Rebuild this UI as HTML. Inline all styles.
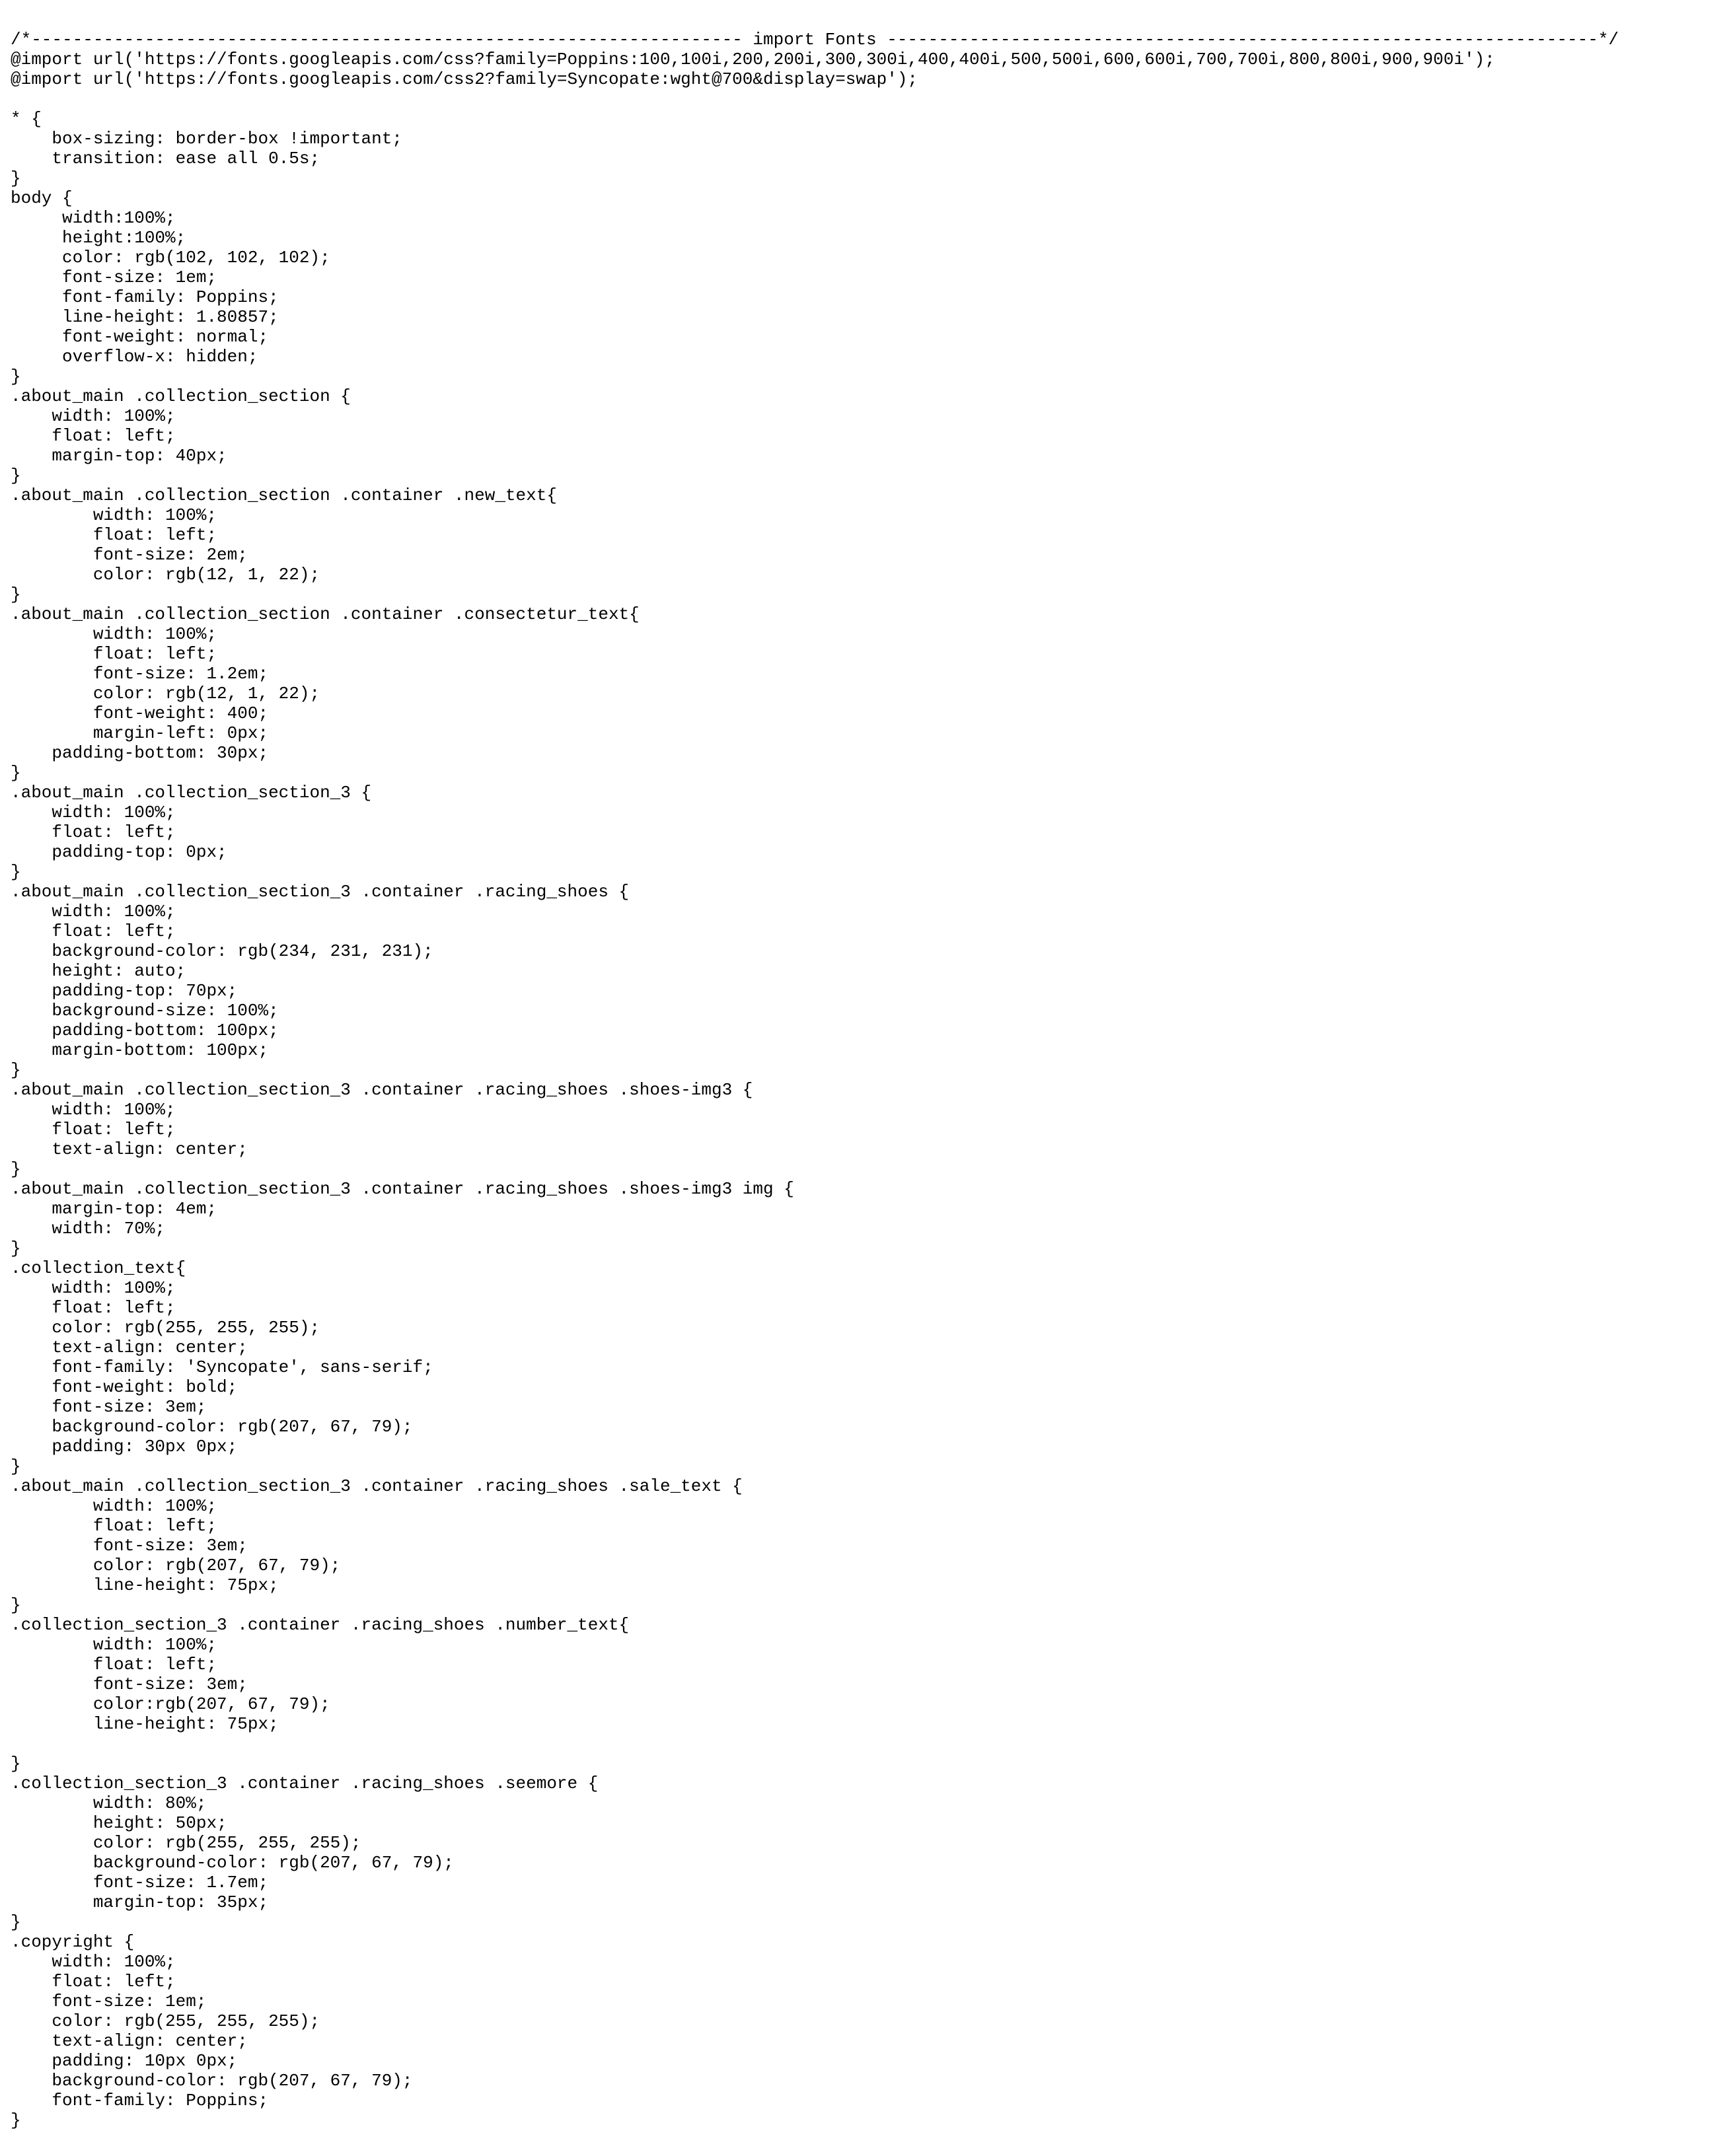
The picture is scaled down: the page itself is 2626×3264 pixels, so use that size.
<!DOCTYPE html>
<html><head><meta charset="utf-8"><style>
html,body{margin:0;padding:0;background:#fff;width:2626px;height:3264px;overflow:hidden}
pre{margin:0;position:absolute;left:16px;top:45px;font-family:"Liberation Mono",monospace;font-size:26px;line-height:30px;color:#000}
</style></head><body><pre>/*--------------------------------------------------------------------- import Fonts ---------------------------------------------------------------------*/
@import url('https://fonts.googleapis.com/css?family=Poppins:100,100i,200,200i,300,300i,400,400i,500,500i,600,600i,700,700i,800,800i,900,900i');
@import url('https://fonts.googleapis.com/css2?family=Syncopate:wght@700&amp;display=swap');

* {
    box-sizing: border-box !important;
    transition: ease all 0.5s;
}
body {
     width:100%;
     height:100%;
     color: rgb(102, 102, 102);
     font-size: 1em;
     font-family: Poppins;
     line-height: 1.80857;
     font-weight: normal;
     overflow-x: hidden;
}
.about_main .collection_section {
    width: 100%;
    float: left;
    margin-top: 40px;
}
.about_main .collection_section .container .new_text{
        width: 100%;
        float: left;
        font-size: 2em;
        color: rgb(12, 1, 22);
}
.about_main .collection_section .container .consectetur_text{
        width: 100%;
        float: left;
        font-size: 1.2em;
        color: rgb(12, 1, 22);
        font-weight: 400;
        margin-left: 0px;
    padding-bottom: 30px;
}
.about_main .collection_section_3 {
    width: 100%;
    float: left;
    padding-top: 0px;
}
.about_main .collection_section_3 .container .racing_shoes {
    width: 100%;
    float: left;
    background-color: rgb(234, 231, 231);
    height: auto;
    padding-top: 70px;
    background-size: 100%;
    padding-bottom: 100px;
    margin-bottom: 100px;
}
.about_main .collection_section_3 .container .racing_shoes .shoes-img3 {
    width: 100%;
    float: left;
    text-align: center;
}
.about_main .collection_section_3 .container .racing_shoes .shoes-img3 img {
    margin-top: 4em;
    width: 70%;
}
.collection_text{
    width: 100%;
    float: left;
    color: rgb(255, 255, 255);
    text-align: center;
    font-family: 'Syncopate', sans-serif;
    font-weight: bold;
    font-size: 3em;
    background-color: rgb(207, 67, 79);
    padding: 30px 0px;
}
.about_main .collection_section_3 .container .racing_shoes .sale_text {
        width: 100%;
        float: left;
        font-size: 3em;
        color: rgb(207, 67, 79);
        line-height: 75px;
}
.collection_section_3 .container .racing_shoes .number_text{
        width: 100%;
        float: left;
        font-size: 3em;
        color:rgb(207, 67, 79);
        line-height: 75px;

}
.collection_section_3 .container .racing_shoes .seemore {
        width: 80%;
        height: 50px;
        color: rgb(255, 255, 255);
        background-color: rgb(207, 67, 79);
        font-size: 1.7em;
        margin-top: 35px;
}
.copyright {
    width: 100%;
    float: left;
    font-size: 1em;
    color: rgb(255, 255, 255);
    text-align: center;
    padding: 10px 0px;
    background-color: rgb(207, 67, 79);
    font-family: Poppins;
}</pre></body></html>
